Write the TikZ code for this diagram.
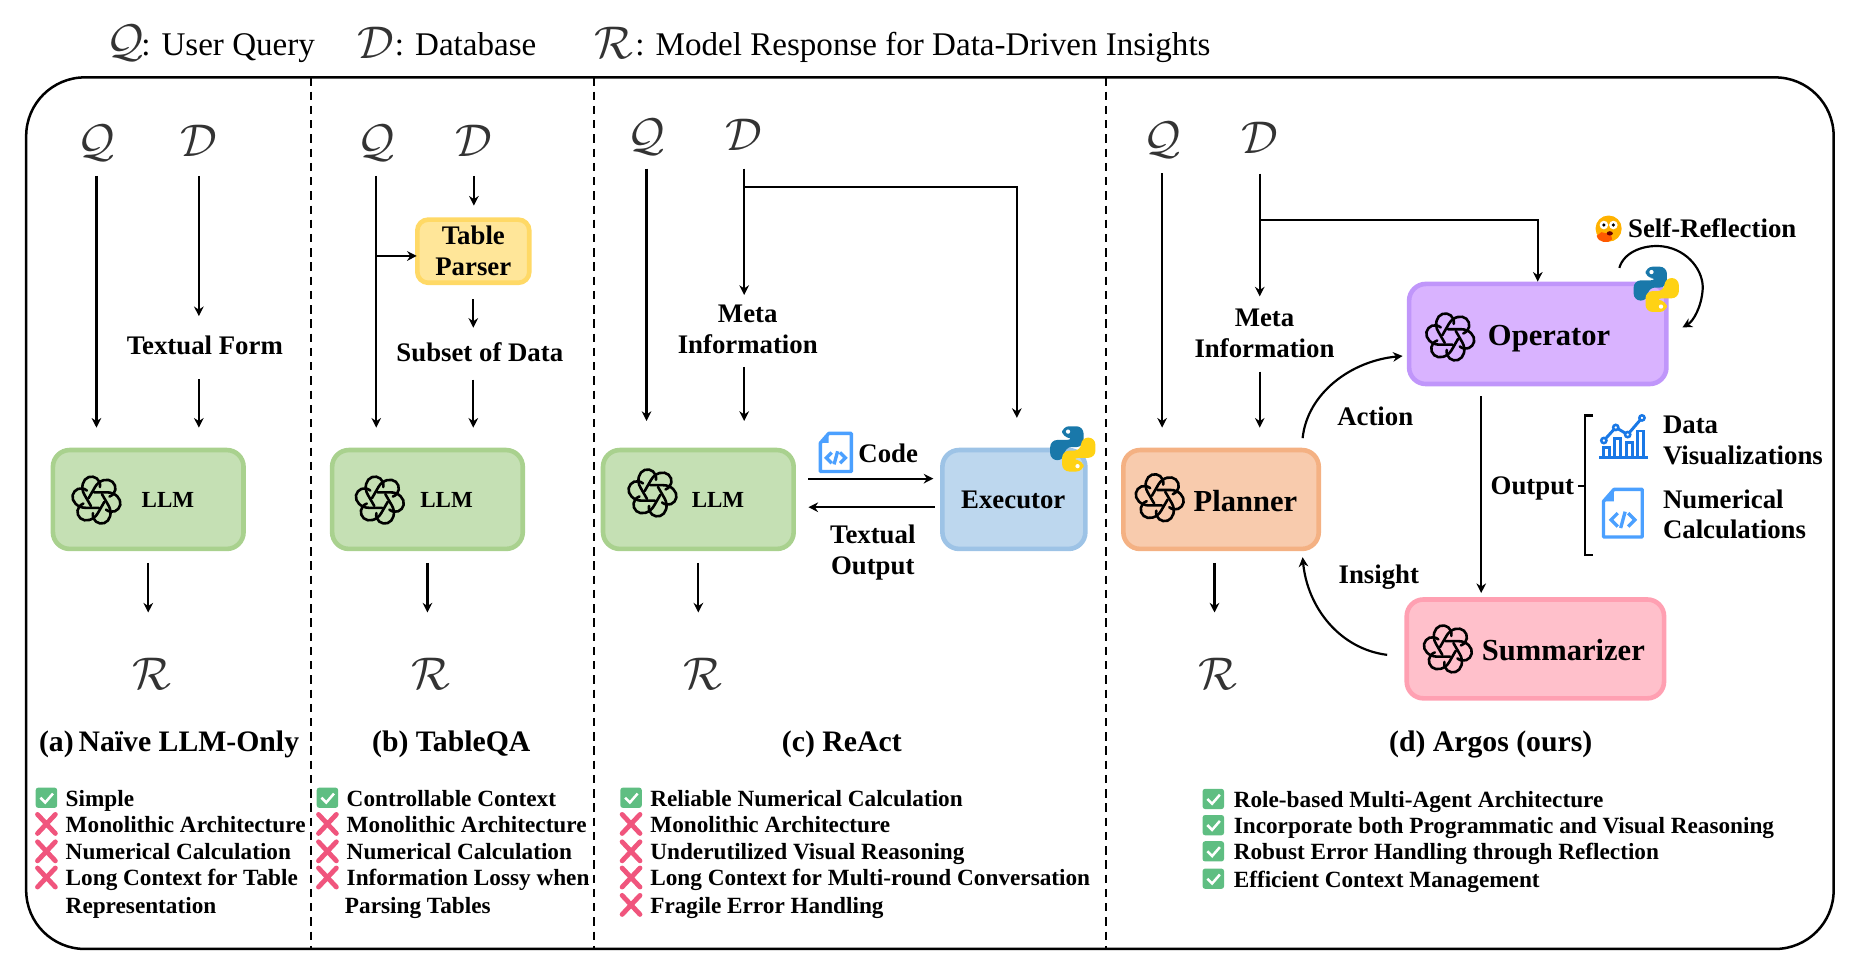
\documentclass[tikz,border=0pt]{standalone}
\usepackage{amsmath}
\usepackage{fontspec}
\setmainfont{Liberation Serif}
\usetikzlibrary{arrows.meta}
\definecolor{llmfill}{RGB}{197, 224, 180}
\definecolor{llmedge}{RGB}{169, 209, 142}
\definecolor{parserfill}{RGB}{255, 230, 153}
\definecolor{parseredge}{RGB}{255, 217, 102}
\definecolor{execfill}{RGB}{189, 215, 238}
\definecolor{execedge}{RGB}{157, 195, 230}
\definecolor{planfill}{RGB}{248, 203, 173}
\definecolor{planedge}{RGB}{244, 177, 131}
\definecolor{opfill}{RGB}{217, 179, 255}
\definecolor{opedge}{RGB}{192, 150, 250}
\definecolor{sumfill}{RGB}{255, 192, 203}
\definecolor{sumedge}{RGB}{255, 160, 178}
\definecolor{pyblue}{RGB}{25, 120, 170}
\definecolor{pyyellow}{RGB}{255, 210, 20}
\definecolor{iconblue}{RGB}{75, 160, 255}
\definecolor{chartblue}{RGB}{25, 120, 230}
\definecolor{okgreen}{RGB}{95, 190, 130}
\definecolor{nopink}{RGB}{240, 85, 125}
\tikzset{
  flow/.style={line width=0.52pt, -{Stealth[length=2.3pt, width=2.3pt]}},
  plain/.style={line width=0.5pt},
  sym/.style={text=black!80, inner sep=0, minimum height=0.3cm, font=\fontsize{10.5}{11}\selectfont},
  legsym/.style={sym, font=\fontsize{10.8}{12}\selectfont},
  legtext/.style={inner sep=0, anchor=base west, font=\fontsize{7.9}{9}\selectfont},
  lbl/.style={inner sep=0, align=center, font=\fontsize{6.4}{7.4}\selectfont\bfseries},
  biglbl/.style={inner sep=0, font=\fontsize{7.3}{8}\selectfont\bfseries},
  llmlbl/.style={inner sep=0, font=\fontsize{5.5}{6}\selectfont\bfseries},
  item/.style={inner sep=0, anchor=west, yshift=-0.7pt, text height=3.7pt, text depth=1.1pt, font=\fontsize{5.55}{6.3}\selectfont\bfseries},
  title/.style={inner sep=0, font=\fontsize{7.1}{8}\selectfont\bfseries},
  card/.style={draw=#1edge, fill=#1fill, line width=1.1pt, rounded corners=4pt},
  pics/gptlogo/.style={code={
    \foreach \a in {0, 60,..., 300} {
      \draw[line width=0.62pt, rotate=\a, line cap=round] (-2, -6.5) -- (9, -6.5)
        .. controls (16, -6.5) and (21, -1) .. (20, 4)
        .. controls (19, 9) and (13, 12) .. (8, 8);
    }
  }},
  pics/pylogo/.style={code={
    \fill[pyblue, rounded corners=1.7pt] (-9, -9.5) -- (-9, -19) -- (9, -19) -- (9, -1.5)
      -- (-7, -1.5) -- (-7, 9.5) -- (-19, 9.5) -- (-19, -7.5) -- (1, -7.5) -- (1, -9.5) -- cycle;
    \fill[pyyellow, rounded corners=1.7pt] (9, 9.5) -- (9, 19) -- (-9, 19) -- (-9, 1.5)
      -- (7, 1.5) -- (7, -9.5) -- (19, -9.5) -- (19, 7.5) -- (-1, 7.5) -- (-1, 9.5) -- cycle;
    \fill[white] (-4, -14.5) circle (1.8) (4, 14.5) circle (1.8);
  }},
  pics/codefile/.style={code={
    \draw[iconblue, fill=white, line width=0.8pt, line join=round] (-6, -16) -- (13, -16)
      -- (13, 16) -- (-13, 16) -- (-13, -8) -- cycle;
    \fill[iconblue] (-6, -16) -- (-6, -8) -- (-13, -8) -- cycle;
    \draw[iconblue, line width=0.8pt] (-3.5, 0) -- (-8, 4.5) -- (-3.5, 9)
      (3.5, 0) -- (8, 4.5) -- (3.5, 9) (1.5, -1) -- (-1.5, 10);
  }},
  pics/chartbars/.style={code={
    \draw[chartblue, line width=0.8pt] (-20, 16) -- (21, 16);
    \draw[chartblue, line width=0.7pt] (-16, 16) rectangle (-11, 8) (-7, 16) rectangle (-2, 0)
      (3, 16) rectangle (8, 4) (12, 16) rectangle (17, -6);
    \draw[chartblue, line width=0.7pt] (-16, 2) -- (-6, -9) -- (4, -3) -- (16, -17);
    \foreach \p in {(-16, 2), (-6, -9), (4, -3), (16, -17)} {
      \draw[chartblue, fill=white, line width=0.6pt] \p circle (2.2);
    }
  }},
  pics/okmark/.style={code={
    \fill[okgreen, rounded corners=0.6pt] (-9, -8.5) rectangle (9, 8.5);
    \draw[white, line width=0.6pt] (-5, 0) -- (-1, 4) -- (5.5, -3.5);
  }},
  pics/nomark/.style={code={
    \draw[nopink, line width=1.15pt, line cap=round] (-7.5, -8) -- (7.5, 8) (-7.5, 8) -- (7.5, -8);
  }},
  pics/thinkface/.style={code={
    \fill[orange!60!yellow] (0, 0) circle (11);
    \fill[orange!70!red] (-10, 6) .. controls (-9, 12) and (0, 13) .. (3, 9) -- (2, 5) -- (-6, 3) -- cycle;
    \fill[white] (-4, -3) circle (3.6) (4, -3) circle (3.6);
    \fill[black] (-4, -3) circle (1.5) (4, -3) circle (1.5);
    \fill[black!60!red] (1, 4) ellipse (2.6 and 1.8);
  }}
}

\begin{document}
\begin{tikzpicture}[x=0.01cm, y=-0.01cm]
  \useasboundingbox (0, 0) rectangle (1568, 822);

  % legend row
  \node[legsym] (legq) at (105, 36) {$\mathcal{Q}$};
  \node[legtext] (legqt) at (118, 47) {: User Query};
  \node[legsym] (legd) at (316, 36) {$\mathcal{D}$};
  \node[legtext] (legdt) at (331, 47) {: Database};
  \node[legsym] (legr) at (516, 36) {$\mathcal{R}$};
  \node[legtext] (legrt) at (533, 47) {: Model Response for Data-Driven Insights};

  % frame and separators
  \draw[line width=0.6pt, rounded corners=14pt] (22, 65) rectangle (1540, 797);
  \foreach \x in {261, 499, 929} {
    \draw[line width=0.5pt, dash pattern=on 2pt off 1.4pt] (\x, 65) -- (\x, 797);
  }

  % (a) naive
  \node[sym] (qa) at (81, 120) {$\mathcal{Q}$};
  \node[sym] (da) at (167, 118) {$\mathcal{D}$};
  \node[card=llm, minimum width=1.6cm, minimum height=0.83cm] (llma) at (124.5, 419.5) {};
  \pic at (81, 420) {gptlogo};
  \node[llmlbl] (llmat) at (141, 420) {LLM};
  \node[lbl] (tfa) at (172, 290) {Textual Form};
  \node[sym] (ra) at (128, 566) {$\mathcal{R}$};
  \node[title] (ta) at (142, 625) {(a)\,Naïve LLM-Only};
  \draw[flow, shorten <=3.4pt, shorten >=4.8pt] (qa.south) -- (qa.south |- llma.north);
  \draw[flow, shorten <=4pt, shorten >=4.5pt] (da.south) -- (da.south |- tfa.north);
  \draw[flow, shorten <=5.7pt, shorten >=4.8pt] (da.south |- tfa.south) -- (da.south |- llma.north);
  \draw[flow, shorten <=2.8pt, shorten >=10.2pt] (llma.south) -- (llma.south |- ra.north);

  % (b) tableqa
  \node[sym] (qb) at (316, 120) {$\mathcal{Q}$};
  \node[sym] (db) at (398, 118) {$\mathcal{D}$};
  \node[card=parser, minimum width=0.94cm, minimum height=0.53cm, rounded corners=2.6pt, lbl] (tpb) at (397.5, 211) {Table\\Parser};
  \node[card=llm, minimum width=1.6cm, minimum height=0.83cm] (llmb) at (359, 419.5) {};
  \pic at (319, 420) {gptlogo};
  \node[llmlbl] (llmbt) at (375, 420) {LLM};
  \node[lbl] (ssb) at (403, 296) {Subset of Data};
  \node[sym] (rb) at (362, 566) {$\mathcal{R}$};
  \node[title] (tb) at (379, 625) {(b) TableQA};
  \coordinate (brb) at (350, 215);
  \draw[flow, shorten <=3.4pt, shorten >=4.8pt] (qb.south) -- (qb.south |- llmb.north);
  \draw[flow, shorten <=4pt, shorten >=2.8pt] (db.south) -- (db.south |- tpb.north);
  \draw[flow] (qb.south |- brb) -- (brb);
  \draw[flow, shorten <=3.4pt, shorten >=3.4pt] (tpb.south) -- (tpb.south |- ssb.north);
  \draw[flow, shorten <=4pt, shorten >=4.8pt] (tpb.south |- ssb.south) -- (tpb.south |- llmb.north);
  \draw[flow, shorten <=2.8pt, shorten >=10.2pt] (llmb.south) -- (llmb.south |- rb.north);

  % (c) react
  \node[sym] (qc) at (543, 115) {$\mathcal{Q}$};
  \node[sym] (dc) at (625, 113) {$\mathcal{D}$};
  \node[card=llm, minimum width=1.6cm, minimum height=0.83cm] (llmc) at (586.5, 419.5) {};
  \pic at (548, 414) {gptlogo};
  \node[llmlbl] (llmct) at (603, 420) {LLM};
  \node[lbl] (mic) at (628, 277) {Meta\\Information};
  \node[card=exec, minimum width=1.2cm, minimum height=0.83cm] (exc) at (851.5, 419.5) {};
  \node[lbl] (exct) at (851, 420) {Executor};
  \pic at (901, 377) {pylogo};
  \pic at (702, 380) {codefile};
  \node[lbl] (codec) at (746, 381) {Code};
  \node[lbl] (outc) at (733, 464) {Textual\\Output};
  \node[sym] (rc) at (590, 566) {$\mathcal{R}$};
  \node[title] (tc) at (707, 625) {(c) ReAct};
  \coordinate (brc) at (625, 157);
  \coordinate (cds) at (679, 402);
  \coordinate (cdr) at (785, 426);
  \coordinate (cdt) at (679, 426);
  \draw[flow, shorten <=3.1pt, shorten >=6.4pt] (qc.south) -- (qc.south |- llmc.north);
  \draw[flow, shorten <=3.7pt, shorten >=2.3pt] (dc.south) -- (dc.south |- mic.north);
  \draw[flow, shorten <=2.8pt, shorten >=6.4pt] (dc.south |- mic.south) -- (dc.south |- llmc.north);
  \draw[flow] (brc) -- (brc -| 854, 0) -- (854, 351);
  \draw[flow, shorten >=1.6pt] (cds) -- (cds -| exc.west);
  \draw[flow] (cdr) -- (cdt);
  \draw[flow, shorten <=2.8pt, shorten >=10.2pt] (llmc.south) -- (llmc.south |- rc.north);

  % (d) argos
  \node[sym] (qd) at (976, 118) {$\mathcal{Q}$};
  \node[sym] (dd) at (1058, 116) {$\mathcal{D}$};
  \node[card=plan, minimum width=1.64cm, minimum height=0.83cm] (pld) at (1025.5, 419.5) {};
  \pic at (974, 418) {gptlogo};
  \node[biglbl] (pldt) at (1046, 421) {Planner};
  \node[card=op, minimum width=2.16cm, minimum height=0.84cm] (opd) at (1291.5, 280.5) {};
  \pic at (1218, 283) {gptlogo};
  \node[biglbl] (opdt) at (1301, 284) {Operator};
  \pic at (1391, 243) {pylogo};
  \node[card=sum, minimum width=2.16cm, minimum height=0.83cm] (sud) at (1289.5, 545) {};
  \pic at (1216, 545) {gptlogo};
  \node[biglbl] (sudt) at (1313, 546) {Summarizer};
  \node[lbl] (mid) at (1062, 280) {Meta\\Information};
  \node[lbl] (actd) at (1155, 350) {Action};
  \node[lbl] (insd) at (1158, 485) {Insight};
  \node[lbl] (outd) at (1287, 410) {Output};
  \pic at (1351, 192) {thinkface};
  \node[lbl] (srd) at (1438, 192) {Self-Reflection};
  \pic at (1363, 368) {chartbars};
  \pic[scale=1.25] at (1363, 431) {codefile};
  \node[lbl, align=left, anchor=west] (vizd) at (1396, 370) {Data\\Visualizations};
  \node[lbl, align=left, anchor=west] (numd) at (1396, 432) {Numerical\\Calculations};
  \node[sym] (rd) at (1023, 566) {$\mathcal{R}$};
  \node[title] (td) at (1252, 625) {(d) Argos (ours)};
  \coordinate (brd) at (1058, 185);
  \coordinate (actfrom) at (1094, 368);
  \coordinate (actto) at (1178, 299);
  \coordinate (insfrom) at (1165, 550);
  \coordinate (insto) at (1094, 468);
  \coordinate (srfrom) at (1360, 225);
  \coordinate (srto) at (1413, 275);
  \draw[flow, shorten <=3.4pt, shorten >=4.8pt] (qd.south) -- (qd.south |- pld.north);
  \draw[flow, shorten <=4pt, shorten >=2.8pt] (dd.south) -- (dd.south |- mid.north);
  \draw[flow, shorten <=3.1pt, shorten >=4.8pt] (dd.south |- mid.south) -- (dd.south |- pld.north);
  \draw[flow] (brd) -- (brd -| opd.north) -- (opd.north);
  \draw[flow] (actfrom) .. controls (1098, 330) and (1135, 303) .. (actto);
  \draw[flow] (insfrom) .. controls (1125, 545) and (1098, 510) .. (insto);
  \draw[flow] (srfrom) .. controls (1364, 211) and (1382, 205) .. (1397, 207)
    .. controls (1418, 210) and (1431, 228) .. (1430, 243)
    .. controls (1429, 258) and (1422, 270) .. (srto);
  \draw[flow, shorten <=2.8pt, shorten >=1.4pt] (1244, 323) -- (1244, 503);
  \draw[plain] (1338, 349) -- (1331, 349) -- (1331, 466) -- (1338, 466);
  \draw[plain, shorten <=0.8pt] (outd.east |- 0, 408) -- (1331, 408);
  \draw[flow, shorten <=2.8pt, shorten >=10.2pt] (pld.south -| 1020, 0) -- (rd.north -| 1020, 0);

  % lists
  \pic at (39, 670) {okmark};
  \foreach \y in {692, 715, 737} { \pic at (39, \y) {nomark}; }
  \foreach \y/\txt [count=\n] in {670/Simple, 692/Monolithic Architecture, 715/Numerical Calculation,
    737/Long Context for Table, 760/Representation} {
    \node[item] (la\n) at (54.5, \y) {\txt};
  }
  \pic at (275, 670) {okmark};
  \foreach \y in {692, 715, 737} { \pic at (275, \y) {nomark}; }
  \foreach \y/\txt [count=\n] in {670/Controllable Context, 692/Monolithic Architecture, 715/Numerical Calculation,
    737/Information Lossy when} {
    \node[item] (lb\n) at (290.5, \y) {\txt};
  }
  \node[item] (lb5) at (289, 760) {Parsing Tables};
  \pic at (530, 670) {okmark};
  \foreach \y in {692, 715, 737, 760} { \pic at (530, \y) {nomark}; }
  \foreach \y/\txt [count=\n] in {670/Reliable Numerical Calculation, 692/Monolithic Architecture,
    715/Underutilized Visual Reasoning, 737/Long Context for Multi-round Conversation, 760/Fragile Error Handling} {
    \node[item] (lc\n) at (545.5, \y) {\txt};
  }
  \foreach \y/\txt [count=\n] in {671/Role-based Multi-Agent Architecture, 693/Incorporate both Programmatic and Visual Reasoning,
    715/Robust Error Handling through Reflection, 738/Efficient Context Management} {
    \pic at (1019, \y) {okmark};
    \node[item] (ld\n) at (1035.5, \y) {\txt};
  }
\end{tikzpicture}
\end{document}
